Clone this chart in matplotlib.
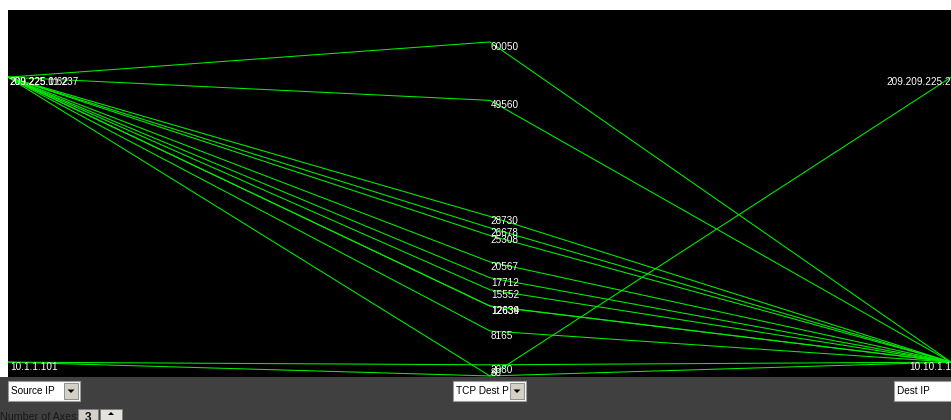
import matplotlib
matplotlib.use("Agg")
import matplotlib.pyplot as plt
from matplotlib.patches import Rectangle, Polygon

# ---- flow records: one polyline per record across the three axes ----
src_ip = [
    "209.225.0.62", "209.225.0.62", "209.225.0.62", "209.225.0.62",
    "209.225.0.62", "209.225.0.62", "209.225.0.62", "209.225.0.62",
    "209.225.0.62", "209.225.0.62", "209.225.0.62",
    "209.225.11.237", "10.1.1.101", "10.1.1.101",
]
dst_port = [
    60050, 49560, 28730, 26678,
    25308, 20567, 17712, 15552,
    12639, 12634, 8165,
    80, 80, 2080,
]
dst_ip = [
    "10.10.1.110", "10.10.1.110", "10.10.1.110", "10.10.1.110",
    "10.10.1.110", "10.10.1.110", "10.10.1.110", "10.10.1.110",
    "10.10.1.110", "10.10.1.110", "10.10.1.110",
    "10.10.1.110", "209.209.225.207", "10.10.1.110",
]
axis_names = ["Source IP", "TCP Dest P", "Dest IP"]
num_axes = 3

W, H = 951, 420
fig = plt.figure(figsize=(W / 100, H / 100), dpi=100, facecolor="white")


def fx(x):
    return x / W


def fy(y):
    return 1 - y / H


def prect(x0, y0, x1, y1, **kw):
    r = Rectangle((fx(x0), fy(y1)), fx(x1) - fx(x0), fy(y0) - fy(y1),
                  transform=fig.transFigure, **kw)
    fig.add_artist(r)
    return r


def ptri(pts, **kw):
    p = Polygon([(fx(x), fy(y)) for x, y in pts], closed=True,
                transform=fig.transFigure, **kw)
    fig.add_artist(p)


def ip_frac(ip):
    a, b, c, d = (int(v) for v in ip.split("."))
    return ((a << 24) | (b << 16) | (c << 8) | d) / 2 ** 32


def port_frac(p):
    return p / 65536


# ---- control panel background ----
prect(0, 377, W, H + 5, facecolor="#404040", edgecolor="none", zorder=0)

# ---- parallel coordinates plot ----
ax = fig.add_axes([fx(8), fy(377), fx(W - 8), (377 - 10) / H])
ax.set_facecolor("black")
ax.set_xticks([])
ax.set_yticks([])
for sp in ax.spines.values():
    sp.set_visible(False)
ylo, yhi = -0.00164, 1.00384
ax.set_xlim(0, 1)
ax.set_ylim(ylo, yhi)

AX_X = [0.0, 0.511, 1.0]
GREEN = "#00f000"

for s, p, d in zip(src_ip, dst_port, dst_ip):
    ax.plot(AX_X, [ip_frac(s), port_frac(p), ip_frac(d)],
            color=GREEN, lw=0.75, solid_capstyle="butt", zorder=2)

font = dict(family=["Liberation Sans", "DejaVu Sans"], size=7.2, color="white")
txt_h = 9.5 / 367 * (yhi - ylo)


def label_y(f):
    return max(f, ylo + txt_h)


for s in dict.fromkeys(src_ip):
    ax.text(0.002, label_y(ip_frac(s)), s, ha="left", va="top", zorder=3, **font)

for p in dict.fromkeys(dst_port):
    ax.text(AX_X[1] + 1 / 943, label_y(port_frac(p)), str(p),
            ha="left", va="top", zorder=3, **font)

for d in dict.fromkeys(dst_ip):
    ax.text(1.0117, label_y(ip_frac(d)), d, ha="right", va="top",
            clip_on=False, zorder=3, **font)

# ---- axis selector combo boxes ----
wfont = dict(family=["Liberation Sans", "DejaVu Sans"], size=7.2, color="black")


def combo(x0, x1, text, y0=381, y1=401):
    prect(x0, y0, x1, y1, facecolor="white", edgecolor="#9a9a9a", lw=0.8, zorder=4)
    bx0, bx1 = x1 - 16, x1 - 2
    prect(bx0, y0 + 2, bx1, y1 - 2, facecolor="#d4d0c8", edgecolor="#808080",
          lw=0.6, zorder=5)
    cx, cy = (bx0 + bx1) / 2, (y0 + y1) / 2
    ptri([(cx - 3.5, cy - 1.5), (cx + 3.5, cy - 1.5), (cx, cy + 2)],
         facecolor="black", edgecolor="none", zorder=6)
    fig.text(fx(x0 + 3), fy((y0 + y1) / 2 + 0.5), text, ha="left",
             va="center", zorder=6, **wfont)


combo(8, 80, axis_names[0])
combo(453, 526, axis_names[1])
combo(894, 968, axis_names[2])

# ---- number of axes spinner ----
fig.text(fx(0), fy(412.5), "Number of Axes:", ha="left", va="top",
         family=["Liberation Sans", "DejaVu Sans"], size=7.7, color="#181818")
prect(78, 409, 98, 428, facecolor="#d4d0c8", edgecolor="#808080", lw=0.6, zorder=4)
fig.text(fx(88), fy(418), str(num_axes), ha="center", va="center",
         family=["Liberation Sans", "DejaVu Sans"], size=8.5,
         weight="bold", color="#101010", zorder=5)
prect(100, 409, 122, 428, facecolor="#e4e2dc", edgecolor="#808080", lw=0.6, zorder=4)
ptri([(108, 415), (114, 415), (111, 412)], facecolor="black",
     edgecolor="none", zorder=5)

fig.savefig("out.png", dpi=100, facecolor=fig.get_facecolor())
